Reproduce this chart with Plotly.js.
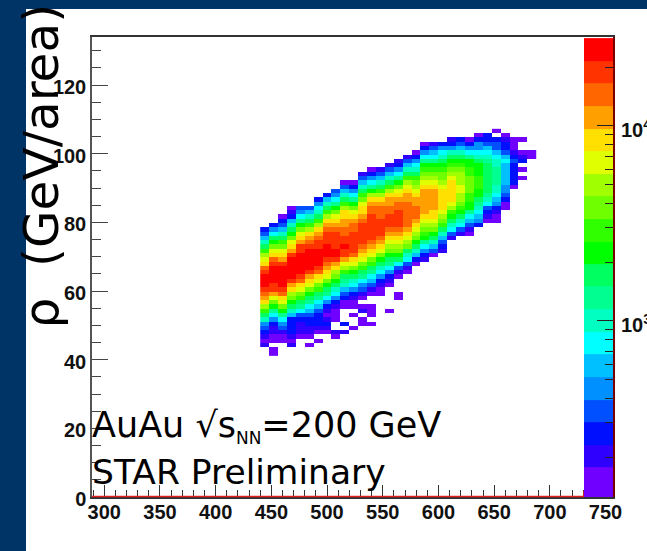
<!DOCTYPE html>
<html>
<head>
<meta charset="utf-8">
<script src="https://cdn.plot.ly/plotly-3.0.1.min.js"></script>
<style>html,body{margin:0;padding:0;background:#fff;overflow:hidden}#c{width:647px;height:551px}</style>
</head>
<body>
<div id="c"></div>
<script>
// Colour band of each cell. Each column runs top row to bottom row; -1 = empty.
const colTop = [29,30,32,34,34,34,36,37,38,40,40,42,43,43,44,45,46,47,49,49,49,50,50,50,51,51,52,51,50,50,47];
const c00=[2,3,5,7,9,11,13,14,15,17,18,19,19,19,18,17,16,15,13,11,9,7,4,3,2,1,0,1];
const c01=[2,4,6,9,10,12,14,15,17,18,19,19,19,19,18,18,16,14,12,10,8,6,4,2,1,1,0,0,-1,0,0];
const c02=[0,2,3,5,7,9,11,12,14,15,16,18,19,19,19,19,19,18,17,15,14,12,10,8,6,4,3,1,0,0];
const c03=[0,1,2,5,7,9,10,12,14,15,16,18,19,19,19,19,19,18,16,15,13,12,10,9,7,5,2,2,2,2,1,0,1];
const c04=[3,4,6,8,10,12,14,15,16,18,18,19,19,19,19,19,18,17,15,14,12,11,9,8,6,3,2,1,1,1,0];
const c05=[3,5,7,9,11,13,15,16,17,18,19,19,19,19,19,18,16,15,14,12,10,9,8,6,5,3,2,2,1,1,0,-1,0];
const c06=[2,4,6,7,9,11,13,15,16,17,18,18,19,19,19,19,18,17,15,14,12,11,9,8,6,5,3,2,2,2,1,0,-1,0];
const c07=[2,5,7,9,11,13,15,16,17,18,18,18,19,19,19,18,17,16,15,14,12,10,9,8,6,4,2,1,0,1,2,1,0];
const c08=[3,4,6,8,10,12,14,15,16,17,18,18,18,18,19,19,18,16,15,13,12,10,9,7,6,4,2,1,0,0,0,-1,-1,1,0];
const c09=[0,3,5,7,9,11,13,15,15,16,16,17,17,18,18,19,18,18,16,14,13,11,9,8,7,5,3,2,0,0,-1,-1,-1,2,-1,1];
const c10=[0,2,4,6,8,10,12,14,15,16,17,17,18,18,18,18,18,17,15,14,12,10,9,7,6,4,2,1,0,0,-1,0,-1,-1,0];
const c11=[1,3,5,7,9,11,12,14,15,15,16,17,18,18,18,18,18,17,16,15,14,12,11,9,8,6,4,3,1,0,-1,0,1,-1,0,0];
const c12=[0,2,4,6,8,10,13,15,16,17,17,18,18,18,18,18,18,17,16,15,14,12,11,9,8,6,5,3,1,0,-1,-1,0,0,0,-1,0];
const c13=[1,3,5,7,9,11,13,15,16,17,17,17,18,18,18,18,17,16,15,14,12,10,9,7,6,4,2,1,0,0];
const c14=[1,3,5,7,9,11,13,15,16,16,17,17,18,18,18,17,16,15,14,13,12,10,9,8,6,4,2,1,0,-1,-1,-1,-1,-1,0];
const c15=[1,2,4,6,8,10,12,14,15,16,17,17,18,18,18,18,17,16,15,14,13,12,10,9,6,3,1,0,-1,-1,-1,0,0];
const c16=[1,3,5,7,9,11,13,14,15,16,16,17,17,17,17,17,17,16,15,14,13,12,9,7,6,3,1,0];
const c17=[0,2,4,6,7,9,11,12,13,14,15,16,16,17,17,17,16,15,14,13,12,10,9,7,5,2,0];
const c18=[0,2,4,6,8,10,11,12,13,14,15,16,16,16,16,16,16,15,14,13,12,11,10,8,6,4,2,1];
const c19=[1,3,5,6,8,10,11,12,13,14,15,16,16,16,16,16,15,15,14,13,12,10,9,7,5,3,0];
const c20=[2,4,6,7,9,10,11,12,12,13,14,15,15,15,15,15,14,13,12,11,9,7,5,3,2,1];
const c21=[1,2,4,7,9,10,11,12,13,14,15,15,15,15,15,14,13,11,10,9,7,6,3,1];
const c22=[2,3,5,7,9,10,11,12,13,13,13,14,14,13,13,12,11,10,9,7,6,3,1];
const c23=[0,2,4,6,8,10,10,11,11,12,12,12,12,11,11,10,10,8,6,5,3,1,0];
const c24=[0,2,4,4,6,7,9,10,10,10,11,11,11,10,10,9,8,7,6,5,4,2];
const c25=[2,2,3,5,6,7,8,9,9,9,9,9,9,9,8,7,6,3,2,1,0];
const c26=[0,-1,2,3,3,5,6,7,7,8,8,8,8,7,7,6,5,4,2,1,0,0];
const c27=[0,1,2,2,3,5,6,5,5,5,5,5,4,4,3,2,0,0];
const c28=[0,0,0,1,2,3,2,2,2,2,2,0];
const c29=[0,-1,-1,0,1,2,-1,0,-1,0];
const c30=[0,0];
const columns=[c00,c01,c02,c03,c04,c05,c06,c07,c08,c09,c10,c11,c12,c13,c14,c15,c16,c17,c18,c19,c20,c21,c22,c23,c24,c25,c26,c27,c28,c29,c30];

// Palette: one colour per band, bottom to top, and the band edges in counts
const bandColors=['#7000ff','#3000ff','#0010ff','#0050ff','#0090ff','#00c0ff','#00ffff','#00ffc0','#00ff90','#00ff60','#00ff00','#30ff00','#70ff00','#a0ff00','#e0ff00','#ffe000','#ffa000','#ff6600','#ff3300','#ff0000'];
const bandEdges=[124,177,231,302,394,515,673,879,1150,1500,1950,2550,3330,4350,5680,7410,9680,12600,16500,21600,28200];
const minorCounts=[200,300,400,500,600,700,800,900,2000,3000,4000,5000,6000,7000,8000,9000,20000];
const majorCounts=[1000,10000];
const majorLabels=['10<sup>3</sup>','10<sup>4</sup>'];
const labelLine1='AuAu √s<sub><span style="font-size:17px">NN</span></sub>=200 GeV';
const labelLine2='STAR Preliminary';
const yTitle='ρ\u00a0\u00a0(GeV/area)';

const W=647,H=551,L=92,R=615,T=37,B=497;
const px=v=>(v-L)/(R-L), py=v=>(B-v)/(B-T);
const nRows=53;
const z=[];
for(let r=0;r<nRows;r++){
  const row=[];
  for(let k=0;k<columns.length;k++){
    const i=colTop[k]-r;
    const v=(i>=0&&i<columns[k].length)?columns[k][i]:-1;
    row.push(v<0?null:v+0.5);
  }
  z.push(row);
}
const scale=[];
bandColors.forEach((c,i)=>{scale.push([i/20,c]);scale.push([(i+1)/20,c]);});
const tickFont={family:'"Liberation Sans",Arial,sans-serif',size:20,color:'#111',weight:'bold'};
const textFont={family:'"DejaVu Sans",sans-serif',size:34.5,color:'#000'};
const line1Font={family:'"DejaVu Sans",sans-serif',size:35,color:'#000'};
const navy='#003366';
const data=[
 {type:'heatmap',z:z,x0:444,dx:8,y0:41.625,dy:1.25,colorscale:scale,zmin:0,zmax:20,showscale:false,hoverongaps:false,xgap:0,ygap:0},
 {type:'heatmap',x:[0,1],y:bandEdges,z:bandColors.map((c,i)=>[i+0.5]),colorscale:scale,zmin:0,zmax:20,showscale:false,xaxis:'x2',yaxis:'y2'}
];
const layout={
 width:W,height:H,margin:{l:L,r:W-R,t:T,b:H-B,pad:0},
 paper_bgcolor:'#fff',plot_bgcolor:'#fff',showlegend:false,
 xaxis:{domain:[0,1],range:[289,758.5],tick0:300,dtick:50,ticks:'inside',ticklen:12,tickwidth:1,tickcolor:'#333',
   minor:{dtick:10,ticks:'inside',ticklen:7,tickwidth:1,tickcolor:'#333',showgrid:false},
   showgrid:false,zeroline:false,showline:true,linecolor:'#333',linewidth:1.5,mirror:true,tickfont:tickFont,ticklabelstandoff:-4},
 yaxis:{domain:[0,1],range:[0,134],tick0:0,dtick:20,ticks:'inside',ticklen:16,tickwidth:1,tickcolor:'#444',
   minor:{dtick:5,ticks:'inside',ticklen:9,tickwidth:1,tickcolor:'#444',showgrid:false},
   showgrid:false,zeroline:false,showline:true,linecolor:'#555',linewidth:1.5,tickfont:tickFont,ticklabelstandoff:0,ticklabelshift:2},
 xaxis2:{domain:[px(584),px(613)],range:[0,1],visible:false,anchor:'y2',fixedrange:true},
 yaxis2:{domain:[0,1],type:'log',range:[2.097,4.456],anchor:'x2',side:'right',
   tickmode:'array',tickvals:majorCounts,ticktext:majorLabels,ticks:'inside',ticklen:16,tickwidth:1,tickcolor:'#222',
   minor:{tickmode:'array',tickvals:minorCounts,ticks:'inside',ticklen:8,tickwidth:1,tickcolor:'#222',showgrid:false},
   showgrid:false,zeroline:false,showline:true,linecolor:'#7a0000',linewidth:2,tickfont:tickFont,ticklabelstandoff:2,ticklabelshift:4},
 shapes:[
  {type:'rect',layer:'below',xref:'paper',yref:'paper',x0:px(0),x1:px(26),y0:py(551),y1:py(0),fillcolor:navy,line:{width:0}},
  {type:'rect',layer:'below',xref:'paper',yref:'paper',x0:px(0),x1:px(647),y0:py(9),y1:py(0),fillcolor:navy,line:{width:0}},
  {type:'line',xref:'paper',yref:'paper',x0:px(92),x1:px(584),y0:py(496.5),y1:py(496.5),line:{color:'#e02020',width:1.5}},
  {type:'line',xref:'paper',yref:'paper',x0:px(583.5),x1:px(583.5),y0:py(497),y1:py(491),line:{color:'#c02020',width:1}}
 ],
 annotations:[
  {xref:'paper',yref:'paper',x:px(40),y:py(166.5),text:yTitle,textangle:-90,showarrow:false,xanchor:'center',yanchor:'middle',
   font:{family:'"DejaVu Sans",sans-serif',size:48.5,color:'#000'}},
  {xref:'paper',yref:'paper',x:px(91),y:py(426),text:labelLine1,showarrow:false,xanchor:'left',yanchor:'middle',align:'left',font:line1Font,borderpad:0},
  {xref:'paper',yref:'paper',x:px(91),y:py(472),text:labelLine2,showarrow:false,xanchor:'left',yanchor:'middle',align:'left',font:textFont,borderpad:0}
 ]
};
Plotly.newPlot('c',data,layout,{displayModeBar:false,responsive:false});
</script>
</body>
</html>
